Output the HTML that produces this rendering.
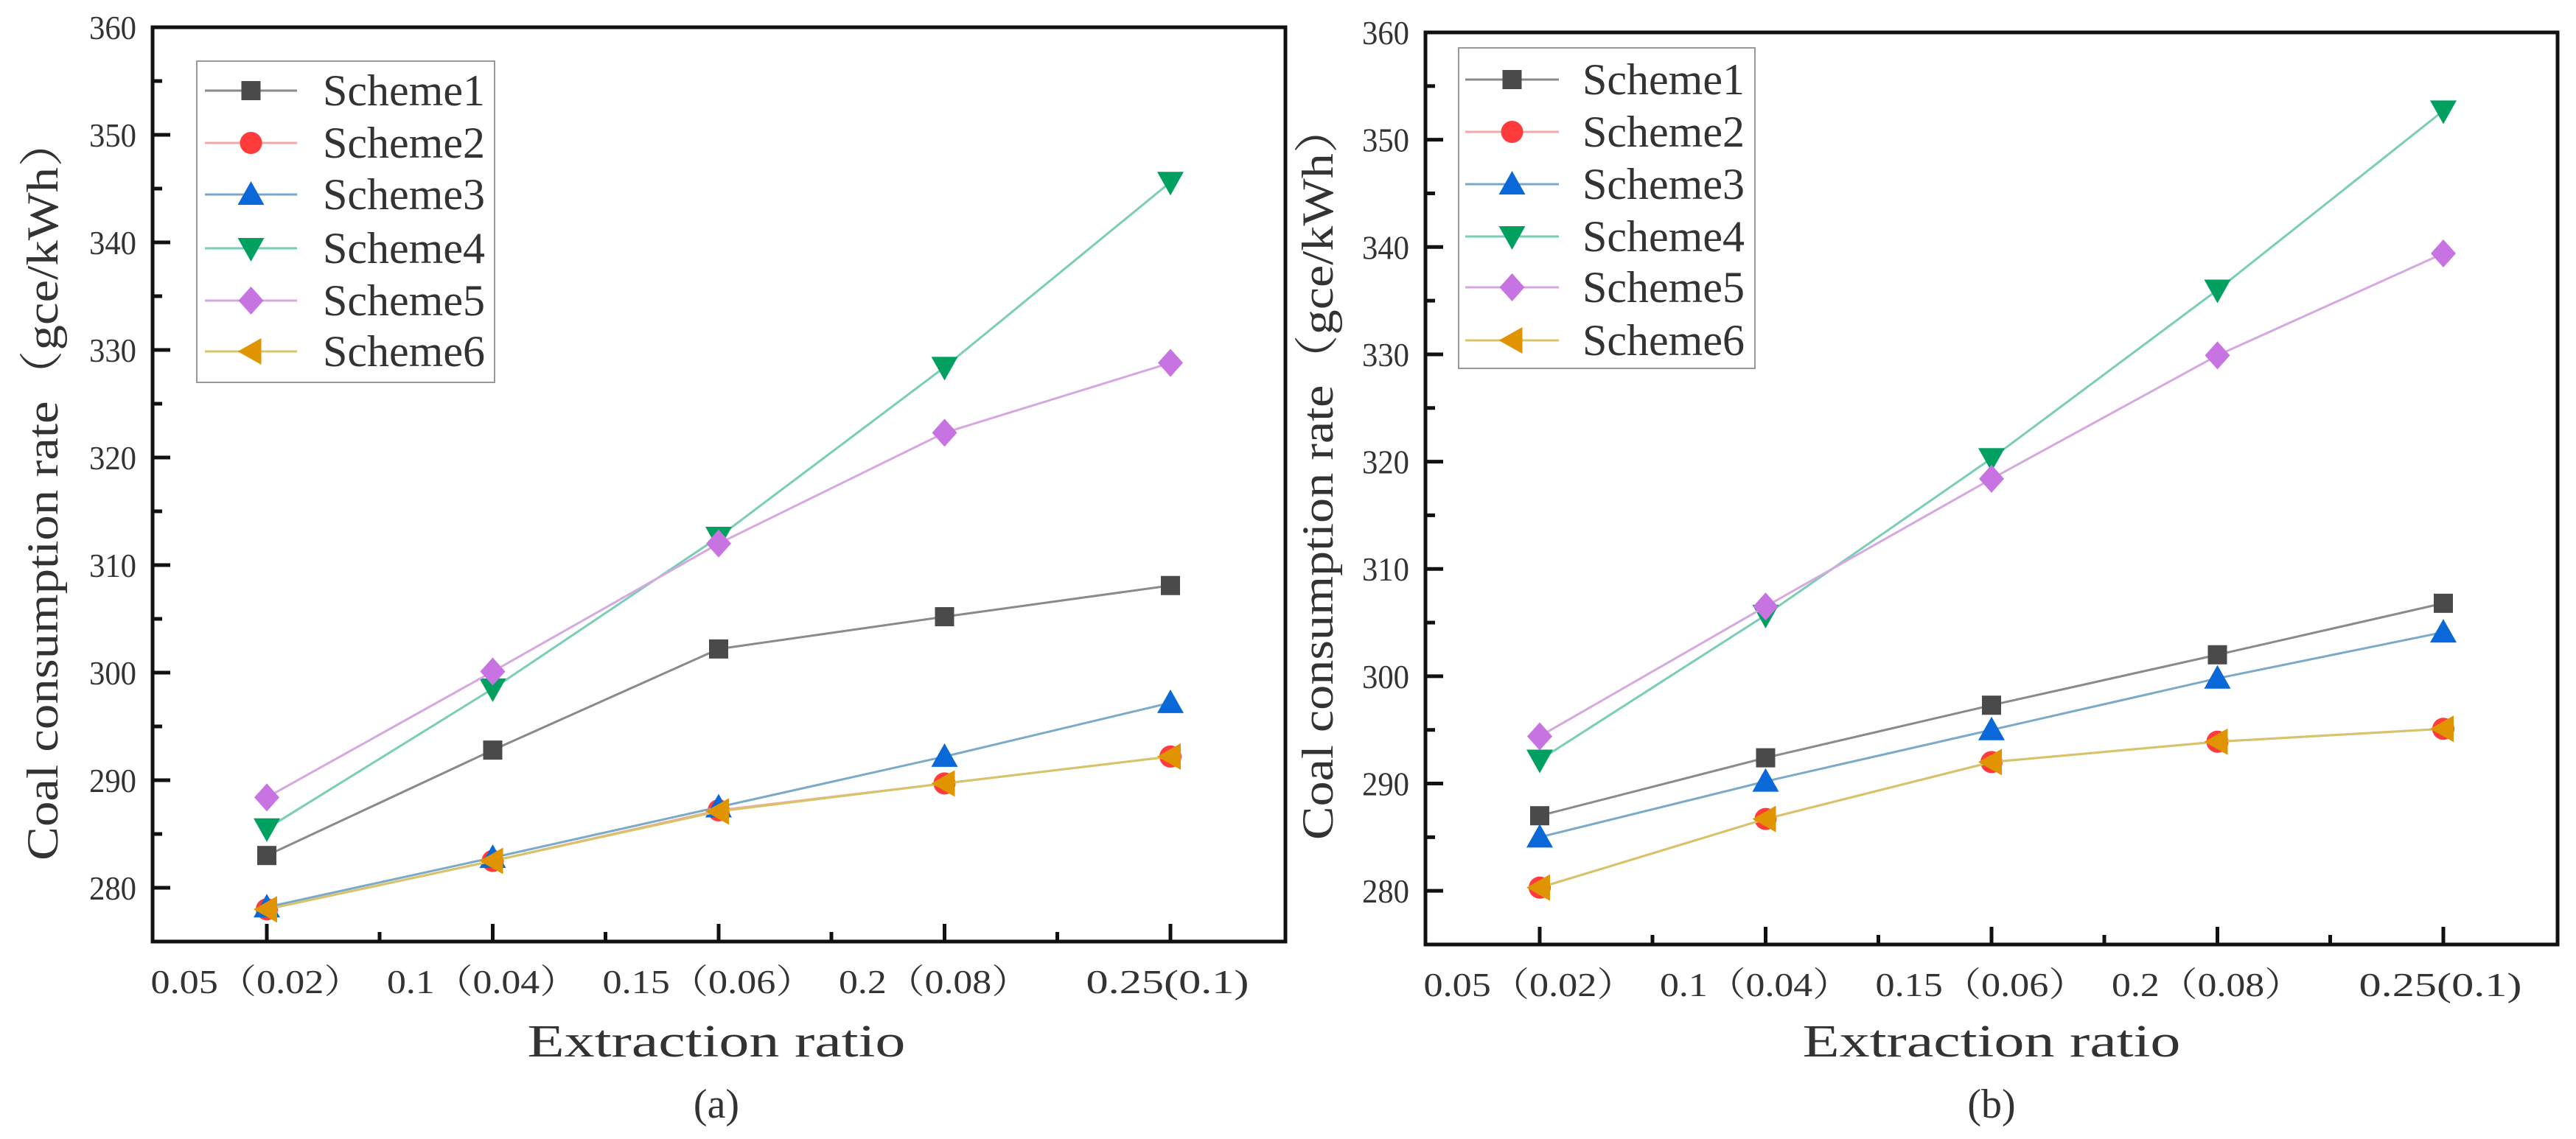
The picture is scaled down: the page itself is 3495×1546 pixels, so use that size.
<!DOCTYPE html>
<html><head><meta charset="utf-8">
<style>
html,body{margin:0;padding:0;background:#fff;}
svg{display:block;}
text{font-family:"Liberation Serif","Noto Serif CJK SC",serif;fill:#333;}
</style></head>
<body>
<svg id="fig" width="3495" height="1546" viewBox="0 0 3495 1546" xmlns="http://www.w3.org/2000/svg"></svg>
<script>
const categories = ["0.05\uFF080.02\uFF09","0.1\uFF080.04\uFF09","0.15\uFF080.06\uFF09","0.2\uFF080.08\uFF09","0.25(0.1)"];
const yTicks = [280,290,300,310,320,330,340,350,360];
const seriesNames = ["Scheme1","Scheme2","Scheme3","Scheme4","Scheme5","Scheme6"];
const aScheme1 = [283.0, 292.8, 302.2, 305.2, 308.1];
const aScheme2 = [278.0, 282.5, 287.2, 289.7, 292.2];
const aScheme3 = [278.2, 282.8, 287.5, 292.2, 297.2];
const aScheme4 = [285.5, 298.5, 312.6, 328.4, 345.6];
const aScheme5 = [288.4, 300.1, 312.0, 322.3, 328.8];
const aScheme6 = [278.0, 282.5, 287.1, 289.7, 292.2];
const bScheme1 = [287.0, 292.4, 297.3, 302.0, 306.8];
const bScheme2 = [280.3, 286.7, 292.0, 293.9, 295.1];
const bScheme3 = [285.0, 290.2, 295.0, 299.8, 304.1];
const bScheme4 = [292.2, 305.7, 320.3, 336.0, 352.7];
const bScheme5 = [294.4, 306.5, 318.4, 329.9, 339.4];
const bScheme6 = [280.3, 286.7, 292.0, 293.9, 295.1];

const NS="http://www.w3.org/2000/svg";
const svg=document.getElementById('fig');
function mk(tag,attrs,parent){const e=document.createElementNS(NS,tag);for(const k in attrs)e.setAttribute(k,attrs[k]);(parent||svg).appendChild(e);return e;}

const styles=[
 {m:'square',fill:'#4a4a4a',line:'#8a8a8a'},
 {m:'circle',fill:'#ff3b3b',line:'#f0a8a8'},
 {m:'up',fill:'#0a68d8',line:'#7aaac8'},
 {m:'down',fill:'#00a060',line:'#7acdb6'},
 {m:'diamond',fill:'#c774e2',line:'#d6a8e0'},
 {m:'left',fill:'#e09400',line:'#d8c468'}
];
const tickW=[287,259,287,259,221];

function marker(g,type,x,y,fill){
  let e;
  if(type==='square') e=mk('rect',{x:x-13,y:y-13,width:26,height:26,fill:fill},g);
  else if(type==='circle') e=mk('circle',{cx:x,cy:y,r:15,fill:fill},g);
  else if(type==='up') e=mk('polygon',{points:`${x},${y-18} ${x+18},${y+14} ${x-18},${y+14}`,fill:fill},g);
  else if(type==='down') e=mk('polygon',{points:`${x},${y+18} ${x+18},${y-14} ${x-18},${y-14}`,fill:fill},g);
  else if(type==='diamond') e=mk('polygon',{points:`${x},${y-19} ${x+17},${y} ${x},${y+19} ${x-17},${y}`,fill:fill},g);
  else e=mk('polygon',{points:`${x-18},${y} ${x+14},${y-18} ${x+14},${y+18}`,fill:fill},g);
  return e;
}

function chart(P){
  const g=mk('g',{});
  
  
  const yOf=v=>P.top+(360-v)*(P.bottom-P.top)/85;
  const xOf=i=>P.left+155+i*306.5;
  // y ticks
  for(let v=280;v<=360;v+=5){
    const y=yOf(v);const major=v%10===0;
    mk('line',{x1:P.left,x2:P.left+(major?24:13),y1:y,y2:y,stroke:'#111','stroke-width':5},g);
  }
  yTicks.forEach(v=>{
    const t=mk('text',{x:P.left-22,y:yOf(v)+16,'text-anchor':'end','font-size':46,textLength:64,lengthAdjust:'spacingAndGlyphs'},g);
    t.textContent=v;
    
    
  });
  // x ticks
  for(let i=0;i<5;i++){
    const x=xOf(i);
    mk('line',{x1:x,x2:x,y1:P.bottom,y2:P.bottom-24,stroke:'#111','stroke-width':5},g);
    if(i<4) mk('line',{x1:x+153,x2:x+153,y1:P.bottom,y2:P.bottom-13,stroke:'#111','stroke-width':5},g);
    const t=mk('text',{x:x-(i===4?4:14),y:P.bottom+70,'text-anchor':'middle','font-size':46,textLength:tickW[i],lengthAdjust:'spacingAndGlyphs'},g);
    t.textContent=categories[i];
    
    
  }
  // frame
  const f=mk('rect',{x:P.left,y:P.top,width:P.right-P.left,height:P.bottom-P.top,fill:'none',stroke:'#111','stroke-width':5},g);
  
  
  // series
  P.data.forEach((arr,s)=>{
    const sg=mk('g',{},g);
    
    
    const pts=arr.map((v,i)=>xOf(i)+','+yOf(v)).join(' ');
    mk('polyline',{points:pts,fill:'none',stroke:styles[s].line,'stroke-width':3},sg);
    arr.forEach((v,i)=>{
      const m=marker(sg,styles[s].m,xOf(i),yOf(v),styles[s].fill);
      
      
    });
  });
  // legend
  const L=P.legend;
  const lg=mk('g',{},g);
  
  
  mk('rect',{x:L.x,y:L.y,width:L.w,height:L.h,fill:'#fff',stroke:'#999','stroke-width':2},lg);
  seriesNames.forEach((n,s)=>{
    const ey=L.ys[s];
    const eg=mk('g',{},lg);
    
    
    mk('line',{x1:L.lx1,x2:L.lx2,y1:ey,y2:ey,stroke:styles[s].line,'stroke-width':3},eg);
    marker(eg,styles[s].m,(L.lx1+L.lx2)/2,ey,styles[s].fill);
    const t=mk('text',{x:L.tx,y:ey+20,'font-size':60,textLength:220,lengthAdjust:'spacingAndGlyphs'},eg);
    t.textContent=n;
  });
  // axis titles
  const yt=mk('text',{x:0,y:0,transform:`translate(${P.ytx},${P.yty}) rotate(-90)`,'text-anchor':'middle','font-size':60,textLength:P.ytl,lengthAdjust:'spacingAndGlyphs'},g);
  yt.textContent='Coal consumption rate\uFF08gce/kWh\uFF09';
  
  
  const xt=mk('text',{x:P.xtx,y:1434,'text-anchor':'middle','font-size':62,textLength:513,lengthAdjust:'spacingAndGlyphs'},g);
  xt.textContent='Extraction ratio';
  
  
  const cap=mk('text',{x:P.xtx,y:1517,'text-anchor':'middle','font-size':56},g);
  cap.textContent=P.caption;
  
  
}

chart({name:'chart-a',left:207,right:1744,top:37,bottom:1278,data:[aScheme1,aScheme2,aScheme3,aScheme4,aScheme5,aScheme6],
  legend:{x:267,y:83,w:404,h:436,ys:[123,194,264,337,408,477],lx1:278,lx2:403,tx:438},
  ytx:78,yty:663,ytl:1010,xtx:972,caption:'(a)'});
chart({name:'chart-b',left:1934,right:3470,top:44,bottom:1282,data:[bScheme1,bScheme2,bScheme3,bScheme4,bScheme5,bScheme6],
  legend:{x:1979,y:65,w:402,h:435,ys:[108,179,250,321,390,462],lx1:1988,lx2:2115,tx:2147},
  ytx:1808,yty:640,ytl:1000,xtx:2702,caption:'(b)'});
</script>
</body></html>
